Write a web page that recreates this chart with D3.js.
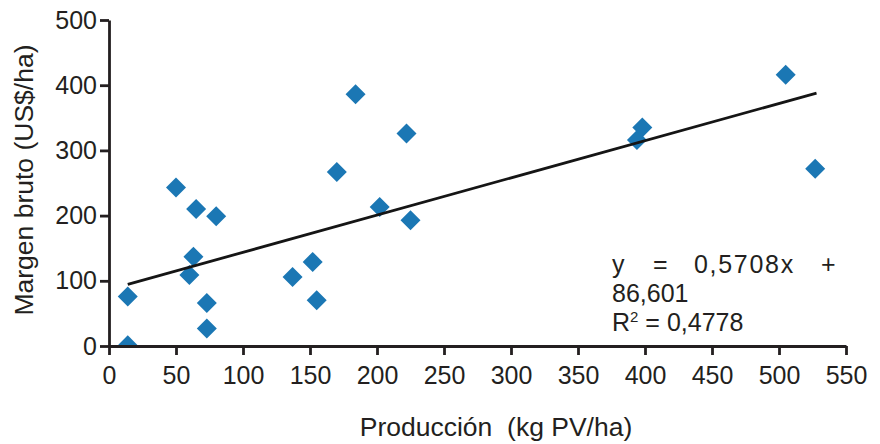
<!DOCTYPE html>
<html>
<head>
<meta charset="utf-8">
<script src="https://cdn.jsdelivr.net/npm/d3@7"></script>
<style>
  body { margin: 0; background: #fff; }
  text { font-family: "Liberation Sans", Arial, sans-serif; fill: #231f20; }
</style>
</head>
<body>
<div id="chart"></div>
<script>
// datos
let produccion = [14, 14, 50, 65, 80, 63, 60, 73, 73, 137, 152, 155, 170, 184, 202, 222, 225, 394, 398, 505, 527];
let margen     = [76, 1, 243, 210, 199, 137, 109, 66, 27, 106, 129, 70, 267, 386, 213, 326, 193, 316, 335, 416, 272];
let xTicks = [0, 50, 100, 150, 200, 250, 300, 350, 400, 450, 500, 550];
let yTicks = [0, 100, 200, 300, 400, 500];
let pendiente = 0.5708, intercepto = 86.601;
let lineaX = [14, 528];

let width = 880, height = 444;
let x0 = 109, x1 = 846, y0 = 346, y1 = 20;
let ink = "#231f20";

let svg = d3.select("#chart").append("svg")
    .attr("width", width)
    .attr("height", height);

let xScale = d3.scaleLinear().domain([0, 550]).range([x0, x1]);
let yScale = d3.scaleLinear().domain([0, 500]).range([y0, y1]);

svg.append("clipPath").attr("id", "plot")
  .append("rect")
    .attr("x", x0).attr("y", 0)
    .attr("width", x1 - x0 + 20).attr("height", y0 - 1);

let data = produccion.map((p, i) => ({x: p, y: margen[i]}));

// puntos
svg.append("g")
    .attr("clip-path", "url(#plot)")
  .selectAll("path")
  .data(data)
  .join("path")
    .attr("d", d3.symbol().type(d3.symbolSquare).size(200))
    .attr("transform", d => `translate(${xScale(d.x)},${yScale(d.y)}) rotate(45)`)
    .attr("fill", "#1b77b4");

// linea de tendencia
svg.append("line")
    .attr("x1", xScale(lineaX[0]))
    .attr("y1", yScale(pendiente * lineaX[0] + intercepto))
    .attr("x2", xScale(lineaX[1]))
    .attr("y2", yScale(pendiente * lineaX[1] + intercepto))
    .attr("stroke", "#151515")
    .attr("stroke-width", 2.8);

// ejes
let xAxis = d3.axisBottom(xScale).tickValues(xTicks).tickSize(9).tickSizeOuter(0).tickPadding(11);
let yAxis = d3.axisLeft(yScale).tickValues(yTicks).tickSize(9).tickSizeOuter(0).tickPadding(3);

svg.append("g")
    .attr("transform", `translate(0,${y0})`)
    .call(xAxis)
    .call(g => g.selectAll("text").attr("font-size", "25px").attr("fill", ink).attr("font-family", null))
    .call(g => g.selectAll("line,path").attr("stroke", ink).attr("stroke-width", 2.8));

svg.append("g")
    .attr("transform", `translate(${x0},0)`)
    .call(yAxis)
    .call(g => g.selectAll("text").attr("font-size", "25px").attr("fill", ink).attr("font-family", null))
    .call(g => g.selectAll("line,path").attr("stroke", ink).attr("stroke-width", 2.8));

// titulos
svg.append("text")
    .attr("x", 496)
    .attr("y", 436)
    .attr("text-anchor", "middle")
    .attr("font-size", "26.5px")
    .style("white-space", "pre")
    .text("Producción  (kg PV/ha)");

svg.append("text")
    .attr("transform", "translate(33,180) rotate(-90)")
    .attr("text-anchor", "middle")
    .attr("font-size", "26.5px")
    .text("Margen bruto (US$/ha)");

// ecuacion
let eq = svg.append("g").attr("font-size", "25px");
eq.append("text").attr("x", 612).attr("y", 273).text("y");
eq.append("text").attr("x", 653).attr("y", 273).text("=");
eq.append("text").attr("x", 694).attr("y", 273).attr("letter-spacing", "1.7px")
    .text("0," + String(pendiente).split(".")[1] + "x");
eq.append("text").attr("x", 821).attr("y", 273).text("+");
eq.append("text").attr("x", 612).attr("y", 302).text(String(intercepto).replace(".", ","));
let r2 = eq.append("text").attr("x", 612).attr("y", 331);
r2.append("tspan").text("R");
r2.append("tspan").attr("font-size", "15px").attr("dy", -9).text("2");
r2.append("tspan").attr("dy", 9).text(" = 0,4778");
</script>
</body>
</html>
